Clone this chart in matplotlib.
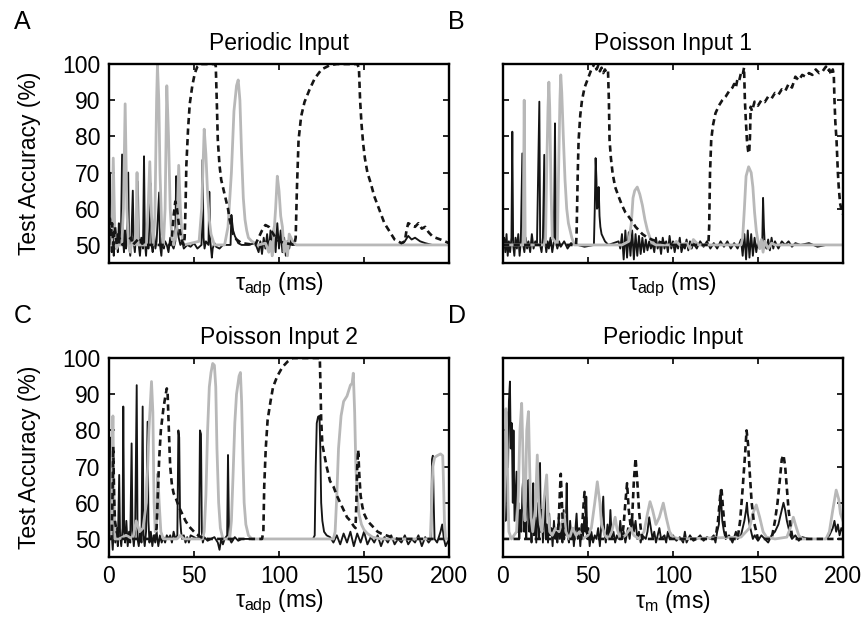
import matplotlib
matplotlib.use("Agg")
import matplotlib.pyplot as plt


# values, (tau, accuracy %) pairs
a_black = [(0, 50), (0.5, 70), (1, 52), (1.6, 48), (2.2, 55), (2.8, 47), (3.4, 53), (4, 49), (4.6, 53), (5.2, 48),
           (5.8, 56), (6.2, 50), (7, 51), (7.7, 75), (8.2, 52), (8.8, 48), (9.4, 54), (10, 49), (10.6, 52), (11.3, 70),
           (11.8, 50), (12.5, 47), (13.2, 52), (14, 65), (14.5, 51), (15.2, 48), (16, 53), (17, 67.5), (17.5, 50),
           (18.2, 47), (19, 52), (20, 49), (20.6, 74.5), (21.1, 51), (21.8, 47), (22.5, 53), (23.2, 49), (24.5, 67),
           (25, 50), (25.7, 48), (26.5, 53), (27.3, 49), (28, 51), (29.5, 64.5), (30, 50), (30.8, 47), (31.5, 52),
           (32.3, 49), (33, 51), (34, 50), (35, 48), (36, 52), (37, 50), (38, 49), (39, 51), (39.5, 69), (40, 55),
           (41, 52), (42, 50), (43, 51), (44, 49), (46, 50), (48, 49.5), (50, 50.5), (52, 49), (54.4, 50), (55, 73.5),
           (55.6, 52), (56.2, 49), (57, 51), (58.5, 50), (59, 64.7), (59.6, 51), (60.5, 46.5), (61, 49), (62, 50.5),
           (63, 49.5), (65, 49), (67, 50), (69, 50), (71.5, 50), (72, 58.3), (72.5, 56), (73, 54), (74, 52.5),
           (75, 51.5), (76, 50.5), (78, 50), (82, 50), (86, 50.5), (88, 48), (89, 51), (90, 47.5), (91, 52), (92, 49),
           (93, 53), (94, 48), (95, 54), (96, 47), (97, 55), (98, 48), (99, 56), (100, 49), (101, 54), (102, 48),
           (103, 52), (104, 47), (105, 51), (106, 49), (107, 52), (108, 50), (110, 50), (140, 50), (172, 50),
           (174, 51), (176, 52.5), (178, 51.5), (180, 52), (183, 51), (186, 50.5), (190, 50), (200, 50)]
a_gray = [(0, 50), (1.5, 50), (2.5, 74), (3.5, 52), (4.5, 49), (5.5, 50), (7.5, 50), (8.5, 60), (9.5, 89),
          (10.5, 60), (11.5, 50), (12.5, 48), (13.5, 51), (15, 50), (16, 55), (16.5, 70), (17, 50), (22, 50),
          (23, 60), (24, 73), (25, 58), (26, 50), (27, 58), (28, 90), (28.5, 99.7), (29.3, 90), (30, 70), (31, 55),
          (32, 50), (33, 60), (34, 94), (35, 80), (36, 60), (37, 52), (38, 50), (40, 55), (41, 72), (42, 60),
          (43, 52), (44, 50), (53, 51), (54.5, 60), (56, 82), (57, 75), (58, 64), (59, 57), (60, 53), (62, 50),
          (68, 50), (70, 55), (72, 70), (73.5, 87), (75, 94), (76, 95.6), (77, 90), (78, 75), (79, 63), (80, 57),
          (81, 54), (82, 52), (84, 51), (88, 50), (92, 50.5), (94, 48), (95, 51), (96, 47), (97, 53), (98, 60),
          (99, 69), (100, 65), (101, 58), (102, 55), (103, 48), (104, 51), (105, 47), (106, 53), (108, 51),
          (110, 50), (200, 50)]
a_dash = [(0, 50), (0.5, 58), (1, 52), (1.8, 56), (2.5, 50), (3.5, 55), (4.5, 50), (6, 52), (8, 50), (13, 52),
          (14, 50), (18, 52), (20, 50), (36, 50), (37, 52), (38, 58), (39, 62), (40, 60), (41, 56), (42, 53),
          (43, 51), (44, 50), (44.5, 52), (45, 60), (45.5, 72), (46.5, 82), (47.5, 89), (49, 94), (50.5, 97.5),
          (52, 99.3), (54, 100), (62, 100), (62.8, 99.5), (63.5, 88), (64, 79), (65, 72), (66, 68), (67.5, 65),
          (69, 62), (70, 60), (71, 57), (72, 55), (73, 53), (75, 51.5), (78, 50.5), (86, 50), (88, 52), (90, 54),
          (92, 55.5), (94, 55), (96, 53.5), (98, 52), (100, 51), (104, 50.5), (109, 50), (109.8, 52), (110.5, 65),
          (111.5, 79), (113, 85.5), (115, 89.5), (118, 93), (121, 96), (125, 98.5), (130, 99.7), (134, 100),
          (146, 100), (147, 99), (147.7, 90), (148.5, 83.6), (149.5, 78), (150.5, 74), (152, 70), (154, 67),
          (156, 63.5), (158, 61), (160, 58.5), (162, 56), (164, 54.5), (166, 53), (168, 51.5), (170, 51),
          (172, 50.5), (174, 51), (175, 54), (176, 56), (178, 55.5), (180, 55), (182, 56), (184, 54.5), (186, 55),
          (188, 53.5), (190, 52.5), (192, 52), (195, 51.5), (200, 50.5)]

b_black = [(0, 50), (0.7, 52), (1.4, 48), (2.1, 53), (2.8, 47), (3.5, 51), (4.2, 48), (5, 52), (5.5, 81.3), (6, 50),
           (6.7, 47), (7.4, 52), (8.2, 49), (9, 53), (9.8, 47), (10.5, 51), (11.4, 75.3), (11.9, 50), (12.6, 48),
           (13.4, 52), (14.2, 49), (15, 51), (16, 48), (17, 53), (18, 49), (19, 51), (20, 50), (21.4, 89.6),
           (21.9, 50), (22.7, 48), (23.5, 52), (24.3, 74.9), (24.8, 51), (25.5, 48), (26.3, 51), (27, 49), (28, 52),
           (29, 48), (30, 51), (30.6, 83.6), (31.1, 51), (32, 49), (33, 51), (34, 49.5), (36, 51), (38, 49),
           (40, 50.5), (44, 50), (48, 49.5), (53.5, 50), (54, 60), (54.5, 74), (55, 68), (55.3, 60), (55.8, 60.5),
           (56.3, 66), (56.8, 58), (57.3, 55), (58, 53), (59, 52), (60, 51), (62, 50), (68, 51), (69, 49), (70, 53),
           (71, 46), (72, 54), (73, 46.5), (74, 53.5), (75, 47), (76, 54), (77, 46), (78, 53), (79, 47), (80, 52.5),
           (81, 47.5), (82, 52), (83, 48), (84, 51.5), (85, 48.5), (86, 51), (87, 49), (88, 50.5), (89, 48), (90, 52),
           (91, 49), (92, 51), (93, 47.5), (94, 52), (95, 49), (96, 51), (97, 48), (98, 52.5), (99, 49), (100, 51),
           (101, 48), (102, 50.5), (103, 49), (104, 52), (105, 48), (106, 50), (107, 49), (108, 51.5), (109, 48.5),
           (110, 51), (111, 49), (112, 50.5), (114, 49), (116, 51), (118, 49.5), (120, 51), (122, 49), (124, 50.5),
           (126, 49), (128, 51), (130, 49.5), (132, 51), (134, 49), (136, 50.5), (138, 49), (140, 51.5), (141, 47),
           (142, 53), (143, 46), (144, 54), (145, 46.5), (146, 53), (147, 47), (148, 52), (149, 48), (150, 51),
           (151, 49), (152.5, 50), (153, 63), (153.5, 55), (154, 50), (155, 49), (156, 51.5), (157, 48.5), (158, 52),
           (159, 49), (160, 51), (162, 49), (164, 51), (166, 50), (168, 51), (170, 49.5), (172, 50.5), (175, 50),
           (180, 50.5), (185, 49.5), (190, 50), (200, 50)]
b_gray = [(0, 50), (12, 50), (12.2, 70), (12.5, 90), (12.8, 70), (13.1, 50), (25, 50), (25.7, 70), (26.5, 88),
          (27, 95), (27.5, 88), (28.3, 65), (29, 52), (32, 50), (32.7, 70), (33.5, 90), (34, 97), (34.6, 92),
          (35.5, 80), (36.5, 68), (37.5, 60), (38.5, 56), (39.5, 54), (40.5, 52), (42, 50), (70, 50), (72, 50.5),
          (74, 51), (75.5, 56), (76.5, 63), (77.5, 65), (79, 66), (80.5, 64), (82, 61), (83.5, 57), (85, 54),
          (86.5, 52), (88, 50.5), (90, 50), (100, 50), (102, 51), (104, 50), (108, 50.5), (110, 49), (112, 51.5),
          (115, 50), (140, 50), (141, 52), (142, 60), (143, 69), (144.5, 71.6), (146, 70), (147, 66), (148, 59),
          (149, 54), (150, 51), (151, 49), (152, 51.5), (153, 48), (154, 51), (156, 49), (158, 50.5), (160, 50),
          (200, 50)]
b_dash = [(0, 50), (43, 50), (43.3, 53), (44, 70), (44.5, 79), (45.5, 86), (46.5, 90), (48, 93.5), (50, 96),
          (52, 98.5), (53, 99.3), (54, 100.5), (55, 98.5), (56, 99.5), (57, 98), (58, 99), (59, 97.5), (60, 98.5),
          (61, 97.5), (61.8, 98), (62.3, 90), (62.7, 79), (63.5, 74), (64.5, 69.8), (66, 66), (68, 63.4), (70, 61),
          (72, 59), (74, 57.8), (76, 56.5), (78, 55), (80, 54), (82, 53), (85, 52), (88, 51.4), (92, 50.8),
          (96, 50.5), (100, 50), (120.8, 50), (121.3, 55), (121.8, 70), (122.5, 79), (123.5, 83), (125, 86.4),
          (127, 88.5), (129, 90), (131, 91), (133, 92.5), (135, 93.5), (136, 94.5), (137, 93.5), (138, 96),
          (139, 95.5), (140, 97.5), (141, 97), (141.8, 99), (142.3, 90), (142.8, 85), (143.5, 79), (144.2, 76),
          (144.8, 75.3), (145.3, 80), (145.7, 88.2), (146.5, 87), (148, 89.6), (150, 88.5), (152, 90), (154, 89.5),
          (156, 91), (158, 90.5), (160, 92), (162, 91.5), (164, 93), (166, 92.5), (168, 94.5), (170, 93.5),
          (172, 96.5), (174, 95.5), (176, 97), (178, 96.5), (180, 97.5), (182, 97), (184, 98.5), (186, 97.5),
          (188, 98), (190, 99.3), (191, 98), (192, 98.5), (193, 97), (194, 98.5), (194.6, 97), (195, 90),
          (195.5, 84), (196.2, 79), (197, 70), (197.5, 66), (198.3, 61.5), (199, 60), (200, 58.5)]

c_black = [(0, 50), (0.5, 55), (1, 78), (1.5, 52), (2.2, 47), (3, 55), (3.7, 49), (4.5, 53), (5.2, 48), (6, 67.7),
           (6.5, 51), (7.2, 48), (8, 53), (8.4, 86.6), (8.9, 52), (9.5, 49), (10.2, 55), (11, 48), (11.8, 52),
           (12.5, 49), (13.3, 76.4), (13.8, 52), (14.6, 48), (15.4, 53), (16.3, 92.5), (16.8, 50), (17.5, 48),
           (18.3, 52), (19.1, 49), (19.8, 86.6), (20.3, 51), (21, 48), (21.8, 52), (22.7, 82.4), (23.2, 55),
           (23.8, 49), (24.6, 52), (25.5, 48), (26.3, 51), (27.2, 49), (28, 52), (29, 48), (30, 51), (31, 49),
           (32, 50.5), (33, 49), (34, 51), (35, 50), (36, 51), (37, 49), (38, 52), (39, 50), (40.2, 51), (40.8, 80),
           (41.3, 78), (41.8, 56), (42.4, 52), (43, 50), (44, 51), (45, 49), (46, 50.5), (47, 49), (48, 51),
           (52, 50), (53, 51), (53.5, 80), (54.1, 79), (54.6, 52), (55.2, 49), (56, 50.5), (58, 49.5), (62, 50.5),
           (64, 49), (65, 47), (66, 50), (67, 48.5), (68, 50), (69.5, 51), (70, 73.2), (70.5, 55), (71, 50),
           (72, 49), (74, 50.5), (76, 49.5), (78, 50), (120, 50), (121, 51), (121.6, 70), (122.2, 82), (123, 83.8),
           (123.8, 84), (124.3, 75), (124.8, 60), (125.5, 55), (126.5, 52), (128, 51), (130, 50.5), (132, 49),
           (134, 51), (136, 48.5), (138, 51.5), (140, 49), (142, 52), (144, 48), (146, 51.5), (148, 49), (150, 52),
           (152, 48.5), (154, 50.5), (156, 49), (158, 51), (160, 48), (162, 50.5), (164, 49), (166, 51),
           (168, 48.5), (170, 50), (172, 49), (174, 51), (176, 48.5), (178, 50), (180, 49), (182, 51), (184, 48),
           (186, 50.5), (188, 49), (189.5, 50), (190, 72), (190.5, 73), (191, 60), (191.5, 50), (193, 49),
           (195, 52), (196, 54), (197, 50), (198, 48), (200, 50)]
c_gray = [(0, 50), (1.2, 50), (1.8, 70), (2.3, 84), (2.8, 65), (3.5, 50), (6, 50), (10, 51), (14, 50), (16, 55),
          (18, 52), (20, 53), (22, 60), (23.5, 80), (25, 93.5), (25.8, 85), (26.5, 60), (27.2, 52), (28, 55),
          (28.7, 68), (29.5, 60), (30.5, 52), (32, 50), (40, 50), (42, 51), (44, 50), (55, 50), (56, 52), (57, 62),
          (58, 80), (59, 92), (60, 96), (61, 98.5), (62, 98), (62.8, 92), (63.5, 75), (64.5, 60), (65.5, 53),
          (67, 50), (71, 50), (72, 55), (73, 68), (74, 82), (75, 90), (76.5, 95), (77.3, 96), (78, 88), (78.8, 72),
          (79.5, 60), (80.5, 54), (82, 51), (84, 50), (132, 50), (133, 52), (134, 62), (135, 75), (136.5, 84),
          (138, 88), (140, 89.5), (141, 91), (142, 92.5), (143, 93), (143.7, 95.8), (144.5, 85), (145.2, 70),
          (146, 62), (147, 57), (148.5, 54), (150, 52.5), (152, 51.5), (155, 50.5), (160, 50), (189, 50),
          (189.8, 60), (190.5, 70), (191.5, 72.5), (193, 73), (195, 73.5), (196.3, 73), (196.8, 65), (197.3, 55),
          (198, 50), (200, 50)]
c_dash = [(0, 50), (1.5, 50), (2, 60), (2.5, 75.5), (3, 62), (3.5, 55), (4.5, 52), (6, 50), (27, 50), (28, 53),
          (28.7, 62), (29.5, 72), (30.5, 80), (32, 86), (33, 89), (34, 91.6), (34.5, 90), (35, 83), (35.5, 76),
          (36, 70), (37, 65), (38, 62.6), (39.5, 61), (41, 59), (43, 57), (45, 55), (47, 53.5), (49, 52.5),
          (51, 51.5), (54, 50.5), (58, 50), (90, 50), (90.8, 52), (91.3, 64.5), (92.2, 75), (93.3, 82.9), (95, 88),
          (96.5, 92), (99, 95), (102, 97.5), (105, 99), (108, 100), (124, 100), (124.4, 92), (124.8, 83),
          (125.5, 76), (126.5, 73.7), (128, 70), (130, 66), (132, 64.5), (134, 62), (136, 60), (138, 58), (140, 56),
          (142, 55), (144, 53.5), (145, 53), (145.5, 60), (146, 70), (146.6, 74.6), (147.2, 68), (148, 62),
          (149, 59), (150, 57), (152, 55), (154, 54), (156, 53), (158, 52), (160, 51.5), (163, 51), (166, 50.5),
          (170, 50), (200, 50)]

d_black = [(0, 50), (0.5, 60), (1, 75), (1.5, 55), (2, 72), (2.5, 85), (3, 70), (3.5, 88), (4.1, 93.5), (4.6, 75),
           (5.2, 82), (5.8, 60), (6.2, 80), (6.8, 55), (7.4, 62), (8, 68.6), (8.5, 52), (9, 60), (9.6, 50),
           (10.2, 58), (10.8, 52), (11.5, 64), (12, 67.2), (12.5, 52), (13.1, 60), (13.7, 50), (14.3, 62),
           (15, 66.3), (15.5, 52), (16.2, 57), (16.8, 49), (17.4, 60), (17.8, 65.4), (18.3, 51), (19, 56),
           (19.6, 49), (20.2, 55), (20.8, 60), (21.3, 50), (21.8, 71), (22.3, 52), (22.9, 58), (23.5, 49),
           (24.1, 56), (24.7, 62.6), (25.2, 50), (25.8, 54), (26.5, 49), (27.2, 57), (27.8, 51), (28.5, 53),
           (29.2, 48), (30, 55), (30.7, 50), (31.4, 52), (32, 49), (32.8, 56), (33.5, 50), (34.3, 53), (35, 49),
           (35.7, 58), (36.3, 51), (37, 54), (37.5, 65.4), (38, 51), (38.8, 49), (39.5, 55), (40.2, 50), (41, 53),
           (41.7, 48), (42.5, 52), (43.3, 57), (44, 50), (44.8, 53), (45.5, 48), (46.3, 54), (47, 50), (47.8, 56),
           (48.5, 52), (49, 61.7), (49.6, 50), (50.3, 53), (51, 48), (52, 52), (53, 49), (54, 51), (55, 50),
           (56, 53), (57, 48), (58, 55), (59, 61.7), (59.6, 52), (60.5, 49), (61.5, 54), (62.5, 50), (63.2, 58),
           (64, 50), (65, 52), (66, 49), (67, 51), (68, 50), (69, 55), (70, 50), (71, 52), (72, 49), (73.5, 53),
           (74.5, 50), (76, 56), (77, 52), (78, 55), (79, 50), (80, 52), (81, 49), (82, 51), (84, 50), (85, 52),
           (86, 56), (87, 53), (88, 50), (89, 52), (90, 49), (91, 51), (92, 53), (93, 50), (95, 51), (96, 49),
           (97, 52), (98, 50), (100, 51), (102, 49.5), (104, 50.5), (106, 49), (107, 52), (108, 49), (110, 51),
           (112, 49.5), (114, 50), (116, 51), (118, 49.5), (120, 50.5), (122, 50), (124, 51), (125, 49), (126, 52),
           (127, 54), (128, 63.5), (129, 55), (130, 52), (131, 50), (133, 51), (135, 49), (137, 52), (138, 50),
           (140, 51), (141, 53), (142, 55), (143, 58), (143.5, 60), (144, 57), (145, 54), (146, 52), (147, 50),
           (148, 51), (150, 49.5), (152, 51), (154, 50), (156, 49), (158, 51), (160, 52), (162, 54), (163, 56),
           (164, 58), (165, 60), (166, 58), (167, 55), (168, 53), (169, 51), (170, 50), (172, 51), (174, 49.5),
           (176, 50.5), (180, 50), (190, 50), (192, 51), (194, 53), (195, 55), (196, 52), (197, 54), (198, 51),
           (199, 53), (200, 52)]
d_gray = [(0, 50), (0.8, 60), (1.8, 86), (2.5, 75), (3, 60), (3.5, 52), (5, 50), (8, 52), (9, 62), (10, 80),
          (11, 87.5), (11.7, 75), (12.3, 60), (13, 55), (14, 80), (15, 85.2), (15.7, 70), (16.5, 56), (17.5, 52),
          (19, 58), (20.2, 73.2), (21, 60), (22, 54), (23, 52), (24, 60), (25.7, 67.7), (26.5, 58), (27.5, 52),
          (29, 51), (31, 53), (33, 52), (35, 55), (36, 57), (37, 52), (39, 50), (41, 53), (43, 51), (45, 52),
          (47, 50), (50, 51), (52, 53), (54, 60), (55.5, 65.8), (57, 60), (58, 54), (60, 51), (62, 50), (64, 52),
          (66, 56), (67, 53), (69, 50), (72, 51), (75, 53), (77, 51), (80, 50), (83, 52), (85, 57), (86.5, 60.3),
          (88, 58), (90, 54), (92, 56), (94.3, 59.9), (96, 56), (98, 52), (100, 50.5), (104, 50), (140, 50.5),
          (145, 53), (147, 57), (149, 59.4), (151, 56), (153, 52), (155, 50.5), (160, 50), (167, 50.5), (169, 53),
          (170.8, 56), (172, 54), (174, 51), (176, 50), (190, 50), (192, 52), (194, 58), (196, 63.5), (197.5, 61),
          (198.5, 57), (200, 55)]
d_dash = [(0, 50), (32, 50), (32.8, 55), (33.5, 63), (34, 68), (34.5, 62), (35.2, 54), (36, 50), (46, 50),
          (46.8, 55), (47.5, 60), (48, 63), (48.6, 58), (49.3, 52), (50, 50), (70, 50), (71, 54), (72, 60),
          (73, 65.4), (74, 58), (75, 54), (76, 56), (77, 66), (78, 72.3), (79, 66), (80, 58), (81, 53), (82, 50),
          (125, 50), (126.5, 55), (127.8, 62), (128.6, 63.5), (129.5, 58), (130.5, 53), (131.5, 50), (138, 50),
          (139.5, 55), (141, 64), (142.5, 74), (143.3, 80), (144.2, 76), (145.2, 68), (146.3, 60), (147.5, 55),
          (149, 52), (150, 50), (158, 50), (160, 55), (161.5, 60), (163, 67), (164, 72), (165, 73.2), (166, 70),
          (167, 64), (168, 58), (169, 54), (170, 51), (171, 50), (200, 50)]

panel_letters = ["A", "B", "C", "D"]
panel_titles = ["Periodic Input", "Poisson Input 1", "Poisson Input 2", "Periodic Input"]
x_labels = [r"$\tau_{\mathrm{adp}}$ (ms)", r"$\tau_{\mathrm{adp}}$ (ms)",
            r"$\tau_{\mathrm{adp}}$ (ms)", r"$\tau_{\mathrm{m}}$ (ms)"]
x_ticks = [0, 50, 100, 150, 200]
y_ticks = [50, 60, 70, 80, 90, 100]

plt.rcParams["font.family"] = ["Liberation Sans", "DejaVu Sans"]
plt.rcParams["mathtext.fontset"] = "custom"
plt.rcParams["mathtext.rm"] = "Liberation Sans"
plt.rcParams["mathtext.it"] = "Liberation Sans"

GRAY = "#b8b8b8"

fig = plt.figure(figsize=(8.63, 6.17), dpi=100)
boxes = [
    [0.1263, 0.5737, 0.394, 0.3225],
    [0.5828, 0.5737, 0.394, 0.3225],
    [0.1263, 0.0972, 0.394, 0.3225],
    [0.5828, 0.0972, 0.394, 0.3225],
]
series = [
    (a_black, a_gray, a_dash),
    (b_black, b_gray, b_dash),
    (c_black, c_gray, c_dash),
    (d_black, d_gray, d_dash),
]

for i, box in enumerate(boxes):
    ax = fig.add_axes(box)
    blk, gry, dsh = series[i]

    ax.plot(*zip(*blk), color="#151515", lw=1.35)
    ax.plot(*zip(*gry), color=GRAY, lw=2.0)
    ax.plot(*zip(*dsh), color="#151515", lw=1.9, dashes=(2.4, 1.6))

    ax.set_xlim(0, 200)
    ax.set_ylim(45, 100)
    ax.set_xticks(x_ticks)
    ax.set_yticks(y_ticks)
    ax.tick_params(direction="in", top=True, right=True, length=4, width=1.2,
                   labelsize=16.5, pad=6)
    for sp in ax.spines.values():
        sp.set_linewidth(1.7)

    row, col = divmod(i, 2)
    if row == 0:
        ax.set_xticklabels([])
    if col == 1:
        ax.set_yticklabels([])
    else:
        ax.set_ylabel("Test Accuracy (%)", fontsize=16.5)
        ax.yaxis.set_label_coords(-0.2, 0.5)

    ax.set_xlabel(x_labels[i], fontsize=16.5)
    if row == 0:
        ax.xaxis.set_label_coords(0.5, -0.04)
    else:
        ax.xaxis.set_label_coords(0.5, -0.155)

    ax.set_title(panel_titles[i], fontsize=16.5, pad=10)

    fig.text(box[0] - (0.11 if col == 0 else 0.064), box[1] + box[3] + 0.048,
             panel_letters[i], fontsize=18, va="bottom", ha="left")

fig.savefig("out.png", dpi=100)
